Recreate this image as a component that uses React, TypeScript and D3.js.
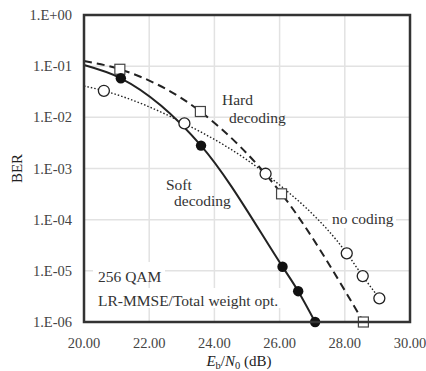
import * as d3 from 'd3'

// x in dB, BER values; first entry of each is where the curve starts (no marker)
const softX = [20.0, 21.13, 23.59, 26.09, 26.57, 27.09]
const softBer = [0.105, 5.8e-2, 2.8e-3, 1.2e-5, 4.0e-6, 1.0e-6]
const hardX = [20.0, 21.1, 23.57, 26.06, 28.57]
const hardBer = [0.126, 8.7e-2, 1.3e-2, 3.2e-4, 1.0e-6]
const uncodedX = [20.0, 20.61, 23.08, 25.57, 28.06, 28.55, 29.06]
const uncodedBer = [4.1e-2, 3.3e-2, 7.6e-3, 7.9e-4, 2.2e-5, 7.9e-6, 2.9e-6]

const xTicks = [20, 22, 24, 26, 28, 30]
const yTicks = [1, 1e-1, 1e-2, 1e-3, 1e-4, 1e-5, 1e-6]
const yTickLabels = ['1.E+00', '1.E-01', '1.E-02', '1.E-03', '1.E-04', '1.E-05', '1.E-06']

const W = 426
const H = 371
const m = { left: 84, right: 16, top: 15, bottom: 49 }
const font = '"Liberation Serif", "Times New Roman", serif'

const App = () => {
  const x = d3.scaleLinear().domain([20, 30]).range([m.left, W - m.right])
  const y = d3.scaleLog().domain([1e-6, 1]).range([H - m.bottom, m.top])

  const line = d3.line<[number, number]>()
    .x(d => x(d[0]))
    .y(d => y(d[1]))
    .curve(d3.curveMonotoneX)

  const pts = (xs: number[], ys: number[]) => xs.map((v, i) => [v, ys[i]] as [number, number])
  const soft = pts(softX, softBer)
  const hard = pts(hardX, hardBer)
  const uncoded = pts(uncodedX, uncodedBer)

  const ink = '#222'
  const x0 = x.range()[0], x1 = x.range()[1]
  const y0 = y.range()[0], y1 = y.range()[1]

  return (
    <svg width={W} height={H} style={{ position: 'absolute', left: 0, top: 0, background: '#fff' }} fontFamily={font}>
      {/* grid */}
      {xTicks.slice(1, -1).map(t => (
        <line key={'gx' + t} x1={x(t)} x2={x(t)} y1={y1} y2={y0} stroke="#e2e2e2" strokeWidth={1.5} />
      ))}
      {yTicks.slice(1, -1).map(t => (
        <line key={'gy' + t} x1={x0} x2={x1} y1={y(t)} y2={y(t)} stroke="#e2e2e2" strokeWidth={1.5} />
      ))}

      {/* text boxes that hide the grid */}
      <rect x={93} y={262} width={72} height={20} fill="#fff" />
      <rect x={93} y={288} width={192} height={20} fill="#fff" />
      <rect x={328} y={210} width={68} height={18} fill="#fff" />

      {/* curves */}
      <path d={line(uncoded) ?? ''} fill="none" stroke={ink} strokeWidth={1.4} strokeDasharray="1.5,2" />
      <path d={line(hard) ?? ''} fill="none" stroke={ink} strokeWidth={2} strokeDasharray="8,5" />
      <path d={line(soft) ?? ''} fill="none" stroke={ink} strokeWidth={2} />

      {/* markers */}
      {uncoded.slice(1).map((d, i) => (
        <circle key={'u' + i} cx={x(d[0])} cy={y(d[1])} r={5.5} fill="#fff" stroke={ink} strokeWidth={1.3} />
      ))}
      {hard.slice(1).map((d, i) => (
        <rect key={'h' + i} x={x(d[0]) - 5} y={y(d[1]) - 5} width={10} height={10} fill="#fff" stroke="#444" strokeWidth={1.2} />
      ))}
      {soft.slice(1).map((d, i) => (
        <circle key={'s' + i} cx={x(d[0])} cy={y(d[1])} r={5.2} fill="#111" />
      ))}

      {/* frame */}
      <rect x={x0} y={y1} width={x1 - x0} height={y0 - y1} fill="none" stroke="#333" strokeWidth={2.5} />

      {/* axes labels */}
      {yTicks.map((t, i) => (
        <text key={'yl' + t} x={72} y={y(t)} dy="0.35em" textAnchor="end" fontSize={14.5} fill="#444">{yTickLabels[i]}</text>
      ))}
      {xTicks.map(t => (
        <text key={'xl' + t} x={x(t)} y={348} textAnchor="middle" fontSize={14.5} fill="#444">{t.toFixed(2)}</text>
      ))}
      <text x={239} y={366} textAnchor="middle" fontSize={15} fill="#222">
        <tspan fontStyle="italic">E</tspan>
        <tspan fontSize={10.5} dy={3}>b</tspan>
        <tspan dy={-3}>/</tspan>
        <tspan fontStyle="italic">N</tspan>
        <tspan fontSize={10.5} dy={3}>0</tspan>
        <tspan dy={-3}> (dB)</tspan>
      </text>
      <text transform={`translate(22,${y(1e-3)}) rotate(-90)`} textAnchor="middle" fontSize={15} fill="#222">BER</text>

      {/* annotations */}
      <g fontSize={15.5} fill="#333">
        <text x={222} y={105}>Hard</text>
        <text x={229} y={123}>decoding</text>
        <text x={166} y={190}>Soft</text>
        <text x={174} y={206}>decoding</text>
        <text x={332} y={224}>no coding</text>
        <text x={98} y={282}>256 QAM</text>
        <text x={98} y={306}>LR-MMSE/Total weight opt.</text>
      </g>
    </svg>
  )
}

export default App
